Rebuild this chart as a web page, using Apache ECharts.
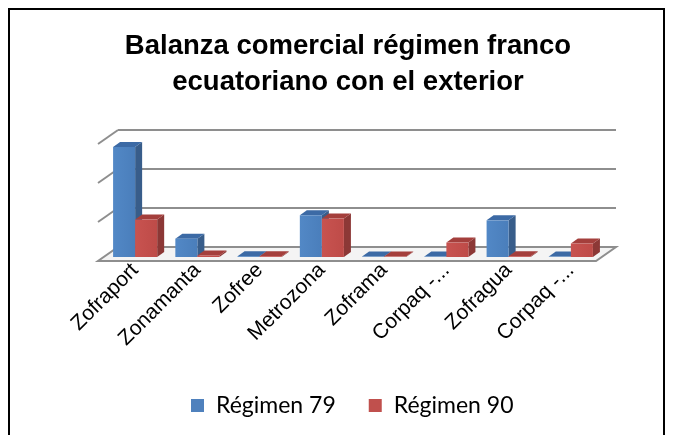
<!doctype html>
<html lang="es">
<head>
    <meta charset="utf-8">
    <title>Balanza comercial</title>
    <script src="https://cdn.jsdelivr.net/npm/echarts@6/dist/echarts.min.js"></script>
    <style>
        html, body {margin: 0; padding: 0; background: #fff;}
        #chart {width: 674px; height: 435px;}
    </style>
</head>
<body>
<div id="chart"></div>
<script>
    // datos
    const categorias = ['Zofraport', 'Zonamanta', 'Zofree', 'Metrozona', 'Zoframa', 'Corpaq -...', 'Zofragua', 'Corpaq -...'];
    const regimen79 = [2820, 470, 20, 1070, 10, 10, 940, 10];
    const regimen90 = [960, 40, 20, 985, 10, 370, 20, 345];
    const lineasGuia = [0, 1000, 2000, 3000];

    let chart = echarts.init(document.getElementById('chart'));

    // desplazamientos de la perspectiva 3D
    const prof = {dx: 7, dy: -5};      // fondo de cada barra
    const pared = {dx: 14, dy: -10};   // pared del fondo
    const frente = {dx: -6, dy: 4};    // borde frontal del piso

    function barra3d(lado, c) {
        return function (params, api) {
            const i = api.value(0);
            const tope = api.coord([i, api.value(1)]);
            const base = api.coord([i, 0]);
            const w = api.size([1, 0])[0] * 0.354;
            const x0 = lado === 0 ? tope[0] - w : tope[0];
            const x1 = x0 + w;
            const y0 = tope[1], y1 = base[1];
            return {
                type: 'group',
                children: [
                    {type: 'polygon', shape: {points: [[x1, y0], [x1 + prof.dx, y0 + prof.dy], [x1 + prof.dx, y1 + prof.dy], [x1, y1]]}, style: {fill: c.lado}},
                    {type: 'polygon', shape: {points: [[x0, y0], [x0 + prof.dx, y0 + prof.dy], [x1 + prof.dx, y0 + prof.dy], [x1, y0]]}, style: {fill: c.tope}},
                    {type: 'rect', shape: {x: x0, y: y0, width: w, height: y1 - y0}, style: {
                        fill: new echarts.graphic.LinearGradient(0, 0, 1, 0, [{offset: 0, color: c.claro}, {offset: 1, color: c.frente}])
                    }}
                ]
            };
        };
    }

    function fondo(params, api) {
        const cs = params.coordSys;
        const y = api.coord([0, api.value(1)])[1];
        const xl = cs.x, xr = cs.x + cs.width;
        const gris = '#8e8e8e';
        if (api.value(1) === 0) {
            return {
                type: 'group',
                children: [
                    {type: 'polygon', shape: {points: [[xl + frente.dx, y + frente.dy], [xr + frente.dx, y + frente.dy], [xr + pared.dx, y + pared.dy], [xl + pared.dx, y + pared.dy]]},
                        style: {fill: '#f4f4f4', stroke: gris, lineWidth: 2}}
                ]
            };
        }
        return {
            type: 'group',
            children: [
                {type: 'line', shape: {x1: xl + frente.dx, y1: y + frente.dy, x2: xl + pared.dx, y2: y + pared.dy}, style: {stroke: gris, lineWidth: 2}},
                {type: 'line', shape: {x1: xl + pared.dx, y1: y + pared.dy, x2: xr + pared.dx, y2: y + pared.dy}, style: {stroke: gris, lineWidth: 2}}
            ]
        };
    }

    const azul = {frente: '#4a7ebb', claro: '#5288c6', lado: '#385d8a', tope: '#3c6aa5'};
    const rojo = {frente: '#be4b48', claro: '#c85350', lado: '#8c3836', tope: '#a43f3c'};

    chart.setOption({
        animation: false,
        graphic: [
            {type: 'rect', shape: {x: 9, y: 9, width: 655, height: 440}, style: {fill: 'none', stroke: '#000', lineWidth: 2}, silent: true},
            {type: 'text', x: 348, y: 28, style: {
                text: 'Balanza comercial régimen franco\necuatoriano con el exterior',
                fontFamily: 'Liberation Sans', fontSize: 27.5, fontWeight: 'bold', lineHeight: 36,
                fill: '#000', align: 'center', verticalAlign: 'top'
            }}
        ],
        legend: {
            left: 186, top: 389, itemWidth: 13, itemHeight: 13, itemGap: 33, icon: 'rect',
            textStyle: {fontFamily: 'Lato', fontSize: 23, color: '#000', padding: [0, 0, 0, 7]},
            data: ['Régimen 79', 'Régimen 90']
        },
        grid: {left: 104, right: 72, top: 140, bottom: 178},
        xAxis: {
            type: 'category', data: categorias,
            axisLine: {show: false}, axisTick: {show: false},
            axisLabel: {interval: 0, rotate: 45, margin: 10, fontFamily: 'Liberation Sans', fontSize: 21, color: '#000'}
        },
        yAxis: {
            type: 'value', min: 0, max: 3000, interval: 1000,
            axisLine: {show: false}, axisTick: {show: false}, axisLabel: {show: false}, splitLine: {show: false}
        },
        series: [
            {type: 'custom', name: 'fondo', renderItem: fondo, data: lineasGuia.map(v => [0, v]), z: 1, silent: true},
            {type: 'custom', name: 'Régimen 79', renderItem: barra3d(0, azul), itemStyle: {color: '#4f81bd'},
                data: regimen79.map((v, i) => [i, v]), z: 2},
            {type: 'custom', name: 'Régimen 90', renderItem: barra3d(1, rojo), itemStyle: {color: '#c0504d'},
                data: regimen90.map((v, i) => [i, v]), z: 3}
        ]
    });

    window.onresize = function () {
        chart.resize();
    };
</script>
</body>
</html>
